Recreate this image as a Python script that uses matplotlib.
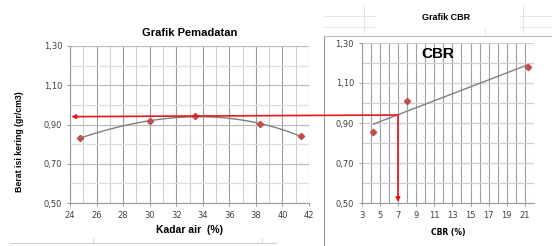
import numpy as np
import matplotlib
matplotlib.use("Agg")
import matplotlib.pyplot as plt
from matplotlib.patches import ConnectionPatch
from matplotlib.lines import Line2D

# Data
kadar_air = [24.75, 30.0, 33.45, 38.3, 41.4]
berat_isi = [0.831, 0.917, 0.943, 0.903, 0.840]
cbr_x = [4.3, 8.0, 21.35]
cbr_y = [0.853, 1.012, 1.180]
mdd = 0.94
cbr_design = 7
yticks = [0.50, 0.70, 0.90, 1.10, 1.30]
ytick_labels = ["0,50", "0,70", "0,90", "1,10", "1,30"]
x1_ticks = list(range(24, 43, 2))
x2_ticks = list(range(3, 22, 2))

W, H = 552, 246
fig = plt.figure(figsize=(W / 100, H / 100), dpi=100)
fig.patch.set_facecolor("white")

def fx(px):
    return px / W

def fy(py):
    return 1 - py / H

# background spreadsheet-like frame lines
fig.add_artist(Line2D([fx(324), fx(324)], [fy(36), fy(246)], color="#9a9a9a", lw=0.8))
fig.add_artist(Line2D([fx(324), fx(552)], [fy(36), fy(36)], color="#bdbdbd", lw=0.8))
fig.add_artist(Line2D([fx(10), fx(276)], [fy(243), fy(243)], color="#d0d0d0", lw=0.8))
for xx in [93, 262]:
    fig.add_artist(Line2D([fx(xx), fx(xx)], [fy(238), fy(243)], color="#d0d0d0", lw=0.6))
for yy in [16, 27]:
    fig.add_artist(Line2D([fx(324), fx(375)], [fy(yy), fy(yy)], color="#e0e0e0", lw=0.6))
    fig.add_artist(Line2D([fx(520), fx(552)], [fy(yy), fy(yy)], color="#e0e0e0", lw=0.6))
fig.add_artist(Line2D([fx(364), fx(364)], [fy(5), fy(36)], color="#e0e0e0", lw=0.6))
fig.add_artist(Line2D([fx(523), fx(523)], [fy(5), fy(36)], color="#e0e0e0", lw=0.6))
fig.add_artist(Line2D([fx(485), fx(485)], [fy(28), fy(36)], color="#e0e0e0", lw=0.6))

tick_font = dict(family="DejaVu Sans", size=6, color="#404040")

# Left chart
ax1 = fig.add_axes([fx(70), fy(203), fx(309) - fx(70), fy(46) - fy(203)])
ax1.set_xlim(24, 42)
ax1.set_ylim(0.5, 1.3)
for v in range(24, 43):
    ax1.axvline(v, color="#9a9a9a" if v % 2 == 0 else "#cfcfcf", lw=0.8, zorder=0)
for v in np.arange(0.5, 1.31, 0.1):
    ax1.axhline(v, color="#bdbdbd" if round(v * 10) % 2 == 1 else "#dedede", lw=0.9, zorder=0)
ax1.set_xticks(x1_ticks)
ax1.set_xticklabels([str(t) for t in x1_ticks], **tick_font)
ax1.set_yticks(yticks)
ax1.set_yticklabels(ytick_labels, **tick_font)
ax1.tick_params(axis="both", length=2.5, width=0.6, color="#888888", pad=3)
for s in ["top", "right"]:
    ax1.spines[s].set_visible(False)
ax1.spines["left"].set_color("#9a9a9a")
ax1.spines["bottom"].set_color("#9a9a9a")
coef = np.polyfit(kadar_air, berat_isi, 3)
xs = np.linspace(kadar_air[0], kadar_air[-1], 200)
ax1.plot(xs, np.polyval(coef, xs), color="#7f7f7f", lw=1.0, zorder=2)
ax1.plot(kadar_air, berat_isi, "D", color="#c0504d", ms=3.2, zorder=3)
ax1.set_xlabel("Kadar air  (%)", family="Liberation Sans", weight="bold", size=7.5, labelpad=4)
ax1.set_title("Grafik Pemadatan", family="Liberation Sans", weight="bold", size=8, pad=7)
fig.text(fx(20), fy(142), "Berat isi kering (gr/cm3)", rotation=90, ha="center", va="center",
         family="Liberation Sans", weight="bold", size=6.3)

# Right chart
ax2 = fig.add_axes([fx(361.7), fy(203), fx(534) - fx(361.7), fy(43) - fy(203)])
ax2.set_xlim(3, 22)
ax2.set_ylim(0.5, 1.3)
for v in range(3, 23):
    ax2.axvline(v, color="#a0a0a0", lw=0.8, zorder=0)
for v in np.arange(0.5, 1.31, 0.1):
    ax2.axhline(v, color="#cfcfcf", lw=0.9, zorder=0)
ax2.set_xticks(x2_ticks)
ax2.set_xticklabels([str(t) for t in x2_ticks], **tick_font)
ax2.set_yticks(yticks)
ax2.set_yticklabels(ytick_labels, **tick_font)
ax2.tick_params(axis="both", length=2.5, width=0.6, color="#888888", pad=3)
for s in ["top", "right"]:
    ax2.spines[s].set_visible(False)
ax2.spines["left"].set_color("#9a9a9a")
ax2.spines["bottom"].set_color("#9a9a9a")
c2 = np.polyfit(cbr_x, cbr_y, 1)
xs2 = np.array([cbr_x[0], cbr_x[-1]])
ax2.plot(xs2, np.polyval(c2, xs2), color="#7f7f7f", lw=1.0, zorder=2)
ax2.plot(cbr_x, cbr_y, "D", color="#c0504d", ms=3.2, zorder=3)
ax2.set_xlabel("CBR (%)", family="DejaVu Sans", weight="bold", size=5.5, labelpad=6)
ax2.text(0.44, 0.93, "CBR", transform=ax2.transAxes, ha="center", va="center",
         family="Liberation Sans", weight="bold", size=11)
fig.text(fx(446), fy(17), "Grafik CBR", ha="center", va="center",
         family="Liberation Sans", weight="bold", size=6.5)

# Red guide lines
red = "#e8161b"
con = ConnectionPatch(xyA=(cbr_design, mdd), coordsA=ax2.transData,
                      xyB=(24.1, mdd), coordsB=ax1.transData,
                      arrowstyle="-|>", mutation_scale=6, color=red, lw=1.2, zorder=10)
fig.add_artist(con)
con2 = ConnectionPatch(xyA=(cbr_design, mdd), coordsA=ax2.transData,
                       xyB=(cbr_design, 0.505), coordsB=ax2.transData,
                       arrowstyle="-|>", mutation_scale=6, color=red, lw=1.2, zorder=10)
fig.add_artist(con2)

fig.savefig("out.png", dpi=100, facecolor="white")
